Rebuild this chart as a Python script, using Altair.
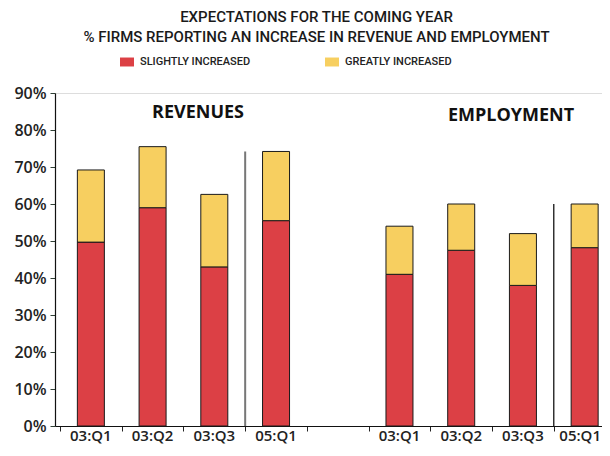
import altair as alt
import pandas as pd

# ---- data ----
quarters = ["03:Q1", "03:Q2", "03:Q3", "05:Q1"]
groups = ["REVENUES", "EMPLOYMENT"]
series = ["SLIGHTLY INCREASED", "GREATLY INCREASED"]
rev_slight = [49.7, 59.0, 43.0, 55.5]
rev_great = [19.5, 16.5, 19.6, 18.7]
emp_slight = [41.0, 47.5, 38.0, 48.2]
emp_great = [13.0, 12.5, 14.0, 11.8]
y_ticks = [0, 10, 20, 30, 40, 50, 60, 70, 80, 90]
title_lines = ["EXPECTATIONS FOR THE COMING YEAR",
               "% FIRMS REPORTING AN INCREASE IN REVENUE AND EMPLOYMENT"]

colors = ["#DC4045", "#F7CF60"]

# ---- tables ----
values = {"REVENUES": (rev_slight, rev_great), "EMPLOYMENT": (emp_slight, emp_great)}
rows, bars = [], []
for gi, g in enumerate(groups):
    slight, great = values[g]
    for qi, q in enumerate(quarters):
        slot = gi * (len(quarters) + 1) + qi  # one empty slot between the panels
        lo = 0.0
        for si, (s, v) in enumerate(zip(series, (slight[qi], great[qi]))):
            rows.append({"group": g, "quarter": q, "slot": slot, "center": slot + 0.5,
                         "series": s, "order": si, "lo": lo, "hi": lo + v})
            lo += v
        bars.append({"group": g, "quarter": q, "slot": slot, "center": slot + 0.5,
                     "total": lo, "is_last": qi == len(quarters) - 1})
df = pd.DataFrame(rows)
bdf = pd.DataFrame(bars)
div_df = bdf[bdf["is_last"]]
last_slot = int(bdf["slot"].max())

n_slots = len(groups) * (len(quarters) + 1) - 1
W, H = 547, 333

xscale = alt.Scale(domain=[0, n_slots - 0.3], nice=False, zero=False)
yscale = alt.Scale(domain=[0, 90], nice=False)

AXIS_FONT = "Open Sans"
COND_FONT = "Roboto"

x_axis = alt.Axis(values=list(range(n_slots)), labels=False, title=None, grid=False,
                  tickSize=5, tickColor="#222", domainColor="#111", domainWidth=1.2)
y_axis = alt.Axis(values=y_ticks, labelExpr="datum.value + '%'", title=None, grid=False,
                  tickSize=5, tickColor="#2f3f35", domainColor="#111", domainWidth=1.2,
                  labelFont=AXIS_FONT, labelFontSize=16, labelFontWeight=600,
                  labelColor="#222", labelPadding=4, labelOverlap=False,
                  labelBound=False, labelFlush=False)

bar_layer = alt.Chart(df).mark_bar(size=27, stroke="#1a1a1a", strokeWidth=1).encode(
    x=alt.X("center:Q", scale=xscale, axis=x_axis),
    y=alt.Y("lo:Q", scale=yscale, axis=y_axis),
    y2="hi:Q",
    color=alt.Color("series:N", scale=alt.Scale(domain=series, range=colors),
                    legend=alt.Legend(orient="none", legendX=65, legendY=-38,
                                      direction="horizontal", title=None,
                                      symbolType="M-1,-0.64H1V0.64H-1Z", symbolSize=196,
                                      symbolStrokeWidth=0, columnPadding=74,
                                      labelFont=COND_FONT, labelFontSize=11,
                                      labelFontWeight=500, labelColor="#222",
                                      labelOffset=6, padding=0)),
    order="order:Q",
)

divider = alt.Chart(div_df).mark_rule().encode(
    x=alt.X("slot:Q", scale=xscale, axis=x_axis),
    y=alt.Y("total:Q", scale=yscale, axis=y_axis),
    y2=alt.datum(0),
    stroke=alt.condition(alt.datum.group == groups[0], alt.value("#777777"), alt.value("#000000")),
    strokeWidth=alt.condition(alt.datum.group == groups[0], alt.value(2), alt.value(1.2)),
)

label_style = dict(font=AXIS_FONT, fontSize=15, fontWeight=600, color="#222",
                   baseline="middle")
qlabels = alt.Chart(bdf).mark_text(**label_style).encode(
    x=alt.X("center:Q", scale=xscale, axis=x_axis),
    y=alt.value(H + 10),
    text="quarter:N",
).transform_filter(alt.datum.slot != last_slot)

# last label sits at the right edge of the chart (kept fully visible)
qlabel_last = alt.Chart(bdf).mark_text(align="right", **label_style).encode(
    x=alt.value(W - 1),
    y=alt.value(H + 10),
    text="quarter:N",
).transform_filter(alt.datum.slot == last_slot)

panel_df = pd.DataFrame({"group": groups})
rev_label = alt.Chart(panel_df[panel_df.group == groups[0]]).mark_text(
    font=AXIS_FONT, fontSize=18, fontWeight="bold", color="#111").encode(
    x=alt.value(143), y=alt.value(20), text="group:N")
emp_label = alt.Chart(panel_df[panel_df.group == groups[1]]).mark_text(
    font=AXIS_FONT, fontSize=18, fontWeight="bold", color="#111").encode(
    x=alt.value(456), y=alt.value(23), text="group:N")

chart = alt.layer(bar_layer, divider, qlabels, qlabel_last, rev_label, emp_label).properties(
    width=W, height=H,
    title=alt.TitleParams(text=title_lines, font=COND_FONT, fontSize=15, fontWeight=500,
                          color="#1a1a1a", anchor="middle", frame="group", dx=-12,
                          offset=10, lineHeight=20),
    autosize=alt.AutoSizeParams(type="none"),
    padding={"left": 47, "top": 85, "right": 0, "bottom": 18},
).configure_view(stroke=None).configure(background="white")

chart.save("out.html", embed_options={"renderer": "svg", "actions": False})
